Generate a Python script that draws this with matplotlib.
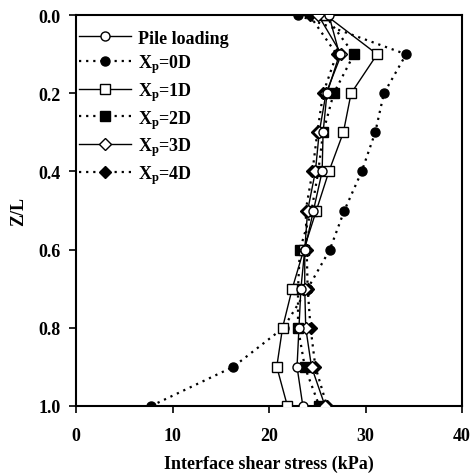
import matplotlib
matplotlib.use("Agg")
import matplotlib.pyplot as plt

plt.rcParams['font.family'] = ['Liberation Serif', 'DejaVu Serif']
plt.rcParams['font.weight'] = 'bold'
plt.rcParams['mathtext.fontset'] = 'custom'
plt.rcParams['mathtext.rm'] = 'Liberation Serif:bold'
plt.rcParams['mathtext.bf'] = 'Liberation Serif:bold'
plt.rcParams['mathtext.it'] = 'Liberation Serif:bold'

# depth ratio
z_l = [0.0, 0.1, 0.2, 0.3, 0.4, 0.5, 0.6, 0.7, 0.8, 0.9, 1.0]

# interface shear stress (kPa)
pile_loading = [26.2, 27.3, 26.0, 25.6, 25.5, 24.6, 23.7, 23.3, 23.1, 22.9, 23.5]
xp_0d = [23.0, 34.2, 31.9, 31.0, 29.6, 27.8, 26.3, 24.0, 21.5, 16.3, 7.8]
xp_1d = [25.9, 31.2, 28.5, 27.7, 26.2, 24.9, 23.6, 22.4, 21.4, 20.8, 21.9]
xp_2d = [25.8, 28.8, 26.7, 25.6, 25.1, 24.4, 23.2, 23.0, 23.0, 23.7, 25.2]
xp_3d = [25.1, 27.5, 25.9, 25.2, 24.8, 24.0, 23.7, 23.7, 23.8, 24.4, 25.8]
xp_4d = [24.2, 27.0, 25.6, 25.0, 24.5, 23.8, 23.9, 24.0, 24.3, 24.8, 26.0]

fig = plt.figure(figsize=(4.72, 4.77), dpi=100)
ax = fig.add_axes([0.161, 0.147, 0.818, 0.819])

dot = (0, (1, 2.2))
ax.plot(xp_0d, z_l, ls=dot, lw=1.6, color='k', marker='o', ms=6.5,
        mfc='k', mec='k', label='X$_{\\mathbf{p}}$=0D', zorder=2)
ax.plot(xp_4d, z_l, ls=dot, lw=1.6, color='k', marker='D', ms=6,
        mfc='k', mec='k', label='X$_{\\mathbf{p}}$=4D', zorder=2)
ax.plot(xp_2d, z_l, ls=dot, lw=1.6, color='k', marker='s', ms=6.5,
        mfc='k', mec='k', label='X$_{\\mathbf{p}}$=2D', zorder=2)
ax.plot(xp_1d, z_l, ls='-', lw=1.0, color='k', marker='s', ms=6.5,
        mfc='white', mec='k', label='X$_{\\mathbf{p}}$=1D', zorder=3)
ax.plot(xp_3d, z_l, ls='-', lw=1.0, color='k', marker='D', ms=6,
        mfc='white', mec='k', label='X$_{\\mathbf{p}}$=3D', zorder=3)
ax.plot(pile_loading, z_l, ls='-', lw=1.0, color='k', marker='o', ms=6.5,
        mfc='white', mec='k', label='Pile loading', zorder=3)

ax.set_xlim(0, 40)
ax.set_ylim(1.0, 0.0)
ax.set_xticks([0, 10, 20, 30, 40])
ax.set_yticks([0.0, 0.2, 0.4, 0.6, 0.8, 1.0])
ax.set_yticklabels(['0.0', '0.2', '0.4', '0.6', '0.8', '1.0'])
ax.tick_params(direction='out', length=5, width=1.2, labelsize=13, pad=6)
ax.tick_params(axis='x', pad=10)
for s in ax.spines.values():
    s.set_linewidth(1.5)

ax.set_xlabel('Interface shear stress (kPa)', fontsize=13, fontweight='bold', labelpad=8)
ax.set_ylabel('Z/L', fontsize=13, fontweight='bold', labelpad=8)

h, l = ax.get_legend_handles_labels()
order = ['Pile loading', 'X$_{\\mathbf{p}}$=0D', 'X$_{\\mathbf{p}}$=1D',
         'X$_{\\mathbf{p}}$=2D', 'X$_{\\mathbf{p}}$=3D', 'X$_{\\mathbf{p}}$=4D']
hh = [h[l.index(o)] for o in order]
ax.legend(hh, order, loc='upper left', bbox_to_anchor=(0.0, 0.97), frameon=False,
          fontsize=13, handlelength=2.9, handletextpad=0.4, labelspacing=0.28,
          borderaxespad=0.0, borderpad=0.15)

fig.savefig('out.png', dpi=100)
